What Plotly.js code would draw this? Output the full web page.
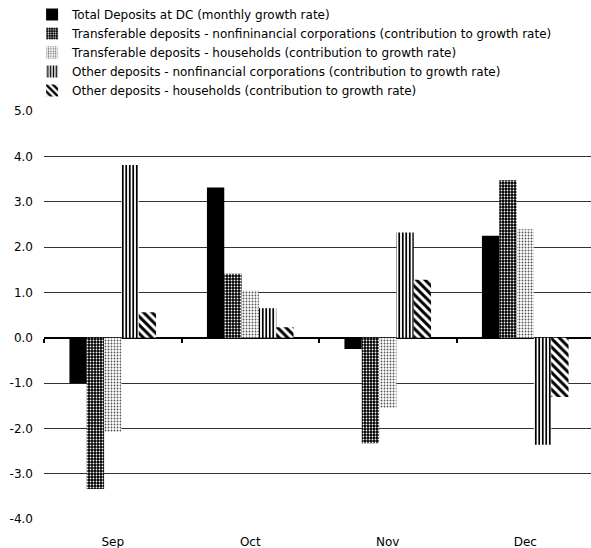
<!DOCTYPE html>
<html>
<head>
<meta charset="utf-8">
<script src="https://cdn.plot.ly/plotly-3.0.1.min.js"></script>
<style>
html,body{margin:0;padding:0;overflow:hidden;background:#fff;}
#chart{width:594px;height:548px;}
</style>
</head>
<body>
<div id="chart"></div>
<script>
const categories = ['Sep', 'Oct', 'Nov', 'Dec'];
const seriesNames = [
  'Total Deposits at DC (monthly growth rate)',
  'Transferable deposits - nonfininancial corporations (contribution to growth rate)',
  'Transferable deposits - households (contribution to growth rate)',
  'Other deposits - nonfinancial corporations (contribution to growth rate)',
  'Other deposits - households (contribution to growth rate)'
];
const totalDeposits = [-1.01, 3.31, -0.25, 2.25];
const transferableNFC = [-3.34, 1.41, -2.33, 3.47];
const transferableHH = [-2.08, 1.04, -1.55, 2.39];
const otherNFC = [3.81, 0.65, 2.32, -2.36];
const otherHH = [0.56, 0.23, 1.28, -1.31];
const yTicks = [-4, -3, -2, -1, 0, 1, 2, 3, 4, 5];

const patterns = [
  {shape: '', bgcolor: '#000', fgcolor: '#000'},
  {shape: '.', bgcolor: '#000', fgcolor: '#fff', size: 3, solidity: 0.3},
  {shape: '.', bgcolor: '#fff', fgcolor: '#555', size: 3, solidity: 0.3},
  {shape: '|', bgcolor: '#fff', fgcolor: '#000', size: 3.5, solidity: 0.5},
  {shape: '\\', bgcolor: '#fff', fgcolor: '#000', size: 6, solidity: 0.5}
];
const values = [totalDeposits, transferableNFC, transferableHH, otherNFC, otherHH];

const traces = values.map((v, i) => ({
  type: 'bar',
  name: seriesNames[i],
  x: categories,
  y: v,
  marker: {
    color: i === 0 ? '#000' : '#fff',
    line: {width: 0},
    pattern: Object.assign({fillmode: 'replace'}, patterns[i])
  },
  hoverinfo: 'x+y+name'
}));

// invisible helper trace so the category-boundary tick axis is drawn
traces.push({
  type: 'scatter', mode: 'markers', x: [0], y: [0],
  xaxis: 'x2', yaxis: 'y',
  marker: {opacity: 0}, showlegend: false, hoverinfo: 'skip'
});

const font = {family: 'DejaVu Sans, Verdana, sans-serif', size: 12, color: '#000'};

const layout = {
  width: 594,
  height: 548,
  margin: {l: 44, r: 0, t: 111, b: 29, autoexpand: false},
  paper_bgcolor: '#fff',
  plot_bgcolor: '#fff',
  font: font,
  barmode: 'group',
  bargap: 0.37,
  bargroupgap: 0,
  showlegend: true,
  legend: {
    xref: 'container', yref: 'container',
    x: 0.054, y: 1.0, xanchor: 'left', yanchor: 'top',
    font: font,
    bgcolor: 'rgba(0,0,0,0)',
    borderwidth: 0,
    traceorder: 'normal',
    itemclick: false
  },
  xaxis: {
    type: 'category',
    showgrid: false,
    showline: false,
    zeroline: false,
    ticks: '',
    ticklabelstandoff: 14,
    tickfont: font
  },
  xaxis2: {
    overlaying: 'x',
    anchor: 'free',
    position: 4 / 9,
    side: 'bottom',
    type: 'linear',
    range: [-0.5, 3.5],
    tickmode: 'array',
    tickvals: [-0.5, 0.5, 1.5, 2.5],
    ticks: 'outside',
    ticklen: 4,
    tickwidth: 2,
    tickcolor: '#000',
    showticklabels: false,
    showgrid: false,
    showline: false,
    zeroline: false
  },
  yaxis: {
    range: [-4, 5],
    tickmode: 'array',
    tickvals: yTicks,
    ticktext: yTicks.map(v => v.toFixed(1)),
    showgrid: true,
    gridcolor: '#333',
    gridwidth: 1,
    zeroline: true,
    zerolinecolor: '#000',
    zerolinewidth: 2,
    ticks: '',
    ticklabelstandoff: 10,
    tickfont: font
  }
};

Plotly.newPlot('chart', traces, layout, {displayModeBar: false, staticPlot: true});
</script>
</body>
</html>
